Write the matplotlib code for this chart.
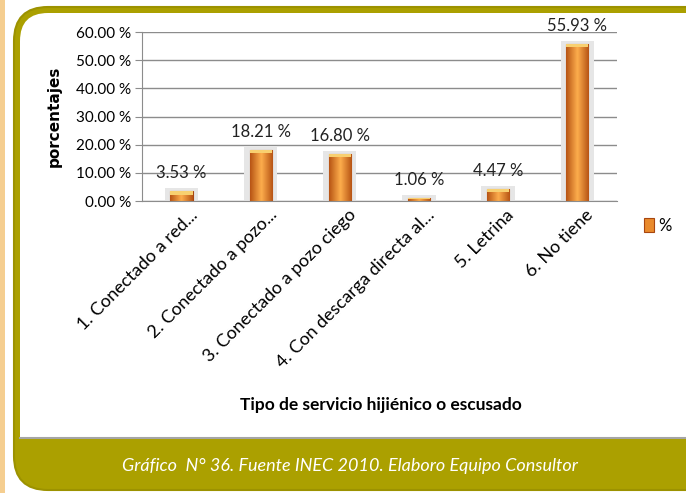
import matplotlib.pyplot as plt
import matplotlib.transforms as mtransforms
from matplotlib.patches import FancyBboxPatch, Rectangle
import numpy as np

plt.rcParams['font.family'] = ['Lato', 'DejaVu Sans']

categorias = ["1. Conectado a red...", "2. Conectado a pozo...", "3. Conectado a pozo ciego",
              "4. Con descarga directa al...", "5. Letrina", "6. No tiene"]
valores = [3.53, 18.21, 16.80, 1.06, 4.47, 55.93]
etiquetas = ["3.53 %", "18.21 %", "16.80 %", "1.06 %", "4.47 %", "55.93 %"]
yticks = [0, 10, 20, 30, 40, 50, 60]

olivo = '#ABA000'

fig = plt.figure(figsize=(6.86, 4.93), dpi=100)

# fondo: marco redondeado y banda inferior
bg = fig.add_axes([0, 0, 1, 1], zorder=0)
bg.set_xlim(0, 686)
bg.set_ylim(493, 0)
bg.axis('off')
bg.add_patch(Rectangle((0, 0), 5, 493, color='#F5CE90', lw=0))
bg.add_patch(FancyBboxPatch((14, 7), 720, 483, boxstyle="round,pad=0,rounding_size=34",
                            fc=olivo, ec='#9C9200', lw=1.5))
bg.add_patch(FancyBboxPatch((20, 13), 710, 424, boxstyle="round,pad=0,rounding_size=28",
                            fc='white', ec='none'))
bg.add_patch(Rectangle((20, 380), 60, 57, color='white', lw=0))
bg.plot([20, 686], [438, 438], color='#A5A5A5', lw=1.5)
bg.text(350, 466, "Gráfico  N° 36. Fuente INEC 2010. Elaboro Equipo Consultor",
        color='white', style='italic', fontsize=13, ha='center', va='center')

ax = fig.add_axes([0.207, 0.592, 0.692, 0.343], zorder=1)
ax.patch.set_alpha(0)
x = np.arange(len(valores))

# sombra clara detrás de cada barra
ax.bar(x, np.array(valores) + 1.0, width=0.42, color='#E6E6E6', zorder=1)
barras = ax.bar(x, valores, width=0.28, color='#E98A2C', edgecolor='#A8460F', lw=0.8,
                zorder=2, label='%')

# degradado horizontal dentro de cada barra
grad = np.linspace(0, 1, 64)
grad = 1 - np.abs(grad - 0.5) * 2
img = np.zeros((1, 64, 3))
dark = np.array([0.72, 0.33, 0.08])
light = np.array([0.99, 0.68, 0.30])
for k in range(3):
    img[0, :, k] = dark[k] + (light[k] - dark[k]) * grad
for b in barras:
    bx, bw, bh = b.get_x(), b.get_width(), b.get_height()
    im = ax.imshow(img, extent=[bx, bx + bw, 0, bh], aspect='auto', zorder=2.5)
    im.set_clip_path(b)
    ax.add_patch(Rectangle((bx, bh - min(1.2, bh * 0.4)), bw, min(1.2, bh * 0.4),
                           color='#F8D070', lw=0, zorder=2.6))

for xi, v, t in zip(x, valores, etiquetas):
    ax.text(xi, v + 6.3, t, ha='center', va='center', fontsize=12, color='#222222')

ax.set_xlim(-0.5, len(valores) - 0.5)
ax.set_ylim(0, 60)
ax.set_yticks(yticks)
ax.set_yticklabels(["%.2f %%" % v for v in yticks], fontsize=11)
ax.grid(axis='y', color='#8C8C8C', lw=1)
ax.set_axisbelow(True)
for s in ['top', 'right']:
    ax.spines[s].set_visible(False)
ax.spines['left'].set_color('#8C8C8C')
ax.spines['bottom'].set_color('#8C8C8C')
ax.tick_params(axis='y', length=5, color='#8C8C8C', pad=3)
ax.tick_params(axis='x', length=0, pad=4)

ax.set_xticks(x)
ax.set_xticklabels(categorias, rotation=45, ha='right', rotation_mode='anchor', fontsize=13)
desplaz = mtransforms.ScaledTranslation(0.08, 0, fig.dpi_scale_trans)
for lab in ax.get_xticklabels():
    lab.set_transform(lab.get_transform() + desplaz)

ax.set_ylabel("porcentajes", fontsize=11, fontweight='bold', family='DejaVu Sans', labelpad=10)
fig.text(0.555, 0.178, "Tipo de servicio hijiénico o escusado", fontsize=12.5,
         fontweight='bold', ha='center', va='center')

ax.legend(handles=[barras[0]], labels=['%'], loc='center left', bbox_to_anchor=(1.025, -0.146),
          frameon=False, fontsize=12, handlelength=0.6, handleheight=0.9, handletextpad=0.3)

fig.savefig("out.png", dpi=100)
